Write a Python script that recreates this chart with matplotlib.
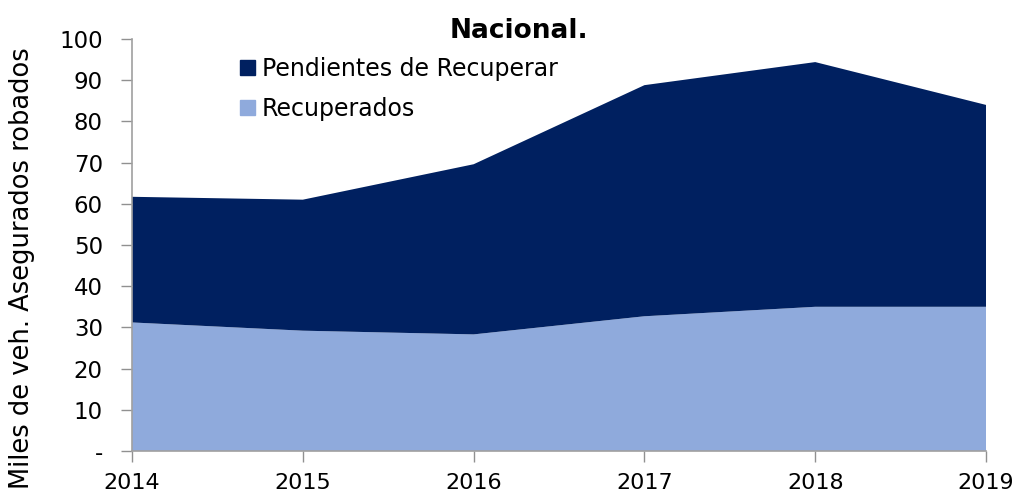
import numpy as np
from matplotlib import pyplot as plt
from matplotlib.patches import Patch

years = [2014, 2015, 2016, 2017, 2018, 2019]
recuperados = [31.2, 29.2, 28.3, 32.7, 35.0, 35.0]
totales = [61.7, 61.0, 69.6, 88.8, 94.4, 84.0]
pendientes = list(np.array(totales) - np.array(recuperados))
yticks = [0, 10, 20, 30, 40, 50, 60, 70, 80, 90, 100]
ytick_labels = ["-"] + [str(v) for v in yticks[1:]]

c_rec = "#8faadc"
c_pen = "#002060"

plt.rcParams['font.family'] = ['DejaVu Sans']

fig = plt.figure(figsize=(10.13, 4.97), dpi=100)
ax = fig.add_axes([0.1303, 0.0926, 0.8431, 0.8289])
ax.stackplot(years, recuperados, pendientes, colors=[c_rec, c_pen], linewidth=0)

ax.set_xlim(2014, 2019)
ax.set_ylim(0, 100)
ax.set_xticks(years)
ax.set_yticks(yticks)
ax.set_yticklabels(ytick_labels)
ax.tick_params(axis='both', labelsize=16.5, colors='#909090', labelcolor='black',
               length=8, width=1)
ax.tick_params(axis='x', labelsize=16, pad=8)
ax.tick_params(axis='y', pad=13)
for s in ['top', 'right']:
    ax.spines[s].set_visible(False)
for s in ['left', 'bottom']:
    ax.spines[s].set_color('#a0a0a0')
    ax.spines[s].set_linewidth(1.2)

ax.set_ylabel("Miles de veh. Asegurados robados", fontsize=18.5)
ax.yaxis.set_label_coords(-0.114, 0.444)

fig.text(0.512, 0.938, "Nacional.", ha='center', va='center', fontsize=19,
         fontweight='bold')

handles = [Patch(color=c_pen, label="Pendientes de Recuperar"),
           Patch(color=c_rec, label="Recuperados")]
ax.legend(handles=handles, loc='upper left', bbox_to_anchor=(0.228, 0.905),
          bbox_transform=fig.transFigure, frameon=False, fontsize=17,
          handlelength=0.6, handleheight=0.6, handletextpad=0.3,
          labelspacing=0.7, borderaxespad=0)

fig.savefig("out.png", dpi=100)
